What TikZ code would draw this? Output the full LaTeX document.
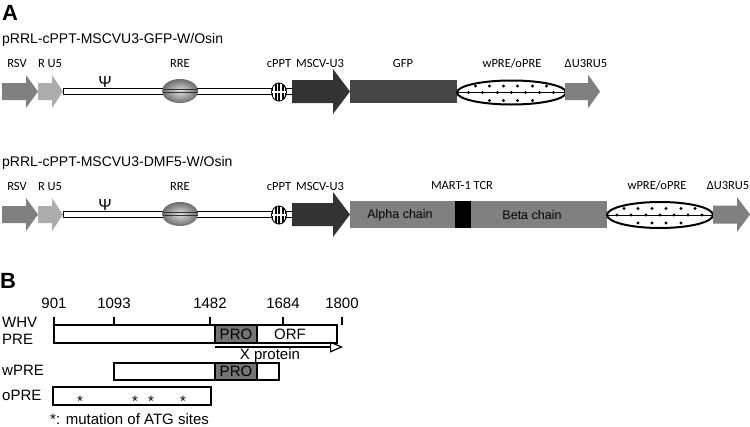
\documentclass[tikz,border=0pt]{standalone}
\usepackage{fontspec}
\setmainfont{Liberation Sans}
\newfontfamily\lblfont{Carlito}
\usetikzlibrary{positioning,arrows.meta}

\definecolor{midgray}{gray}{0.5}
\definecolor{ltgray}{gray}{0.68}
\definecolor{dkgray}{gray}{0.2}
\definecolor{gfpgray}{gray}{0.27}
\definecolor{progray}{gray}{0.45}

% block arrow: colour, x start, x head, x tip, y, body half, head half
\newcommand{\blockarrow}[7]{%
  \fill[#1] (#2,#5-#6) -- (#3,#5-#6) -- (#3,#5-#7) -- (#4,#5)
    -- (#3,#5+#7) -- (#3,#5+#6) -- (#2,#5+#6) -- cycle;}

% dotted PRE oval: x, y, x radius, y radius
\newcommand{\preoval}[4]{%
  \draw[line width=2pt,fill=white] (#1,#2) ellipse ({#3pt} and {#4pt});
  \draw[line width=0.8pt] (#1-#3+1,#2) -- (#1+#3-1,#2);
  \foreach \d in {-36,-22,-8,6,21,35} {\fill (#1+\d,#2-6.5) circle (1.6pt);}
  \foreach \d in {-43,-29,-14,0,14,28,42} {\fill (#1+\d,#2) circle (1.6pt);}
  \foreach \d in {-22,-8,6,21} {\fill (#1+\d,#2+8) circle (1.6pt);}}

\begin{document}
\begin{tikzpicture}[x=1pt,y=-1pt,
  lbl/.style={font=\lblfont\fontsize{12.5}{15}\selectfont,inner sep=0pt,anchor=base},
  ttl/.style={font=\fontsize{14}{16}\selectfont,inner sep=0pt,anchor=base west},
  btxt/.style={font=\fontsize{15}{18}\selectfont,inner sep=0pt,anchor=base},
  chain/.style={font=\fontsize{12.5}{14}\selectfont,inner sep=0pt},
  panel/.style={font=\bfseries\fontsize{22}{24}\selectfont,inner sep=0pt,anchor=north west},
  pbox/.style={line width=1.1pt}]
\useasboundingbox (0,0) rectangle (750,426);

% panel A
\node[panel] (pa) at (2,5) {A};
\foreach \R/\T in {0/{pRRL-cPPT-MSCVU3-GFP-W/Osin},123/{pRRL-cPPT-MSCVU3-DMF5-W/Osin}} {
  \node[ttl] (title\R) at (2,43+\R) {\T};
  \blockarrow{midgray}{2}{26}{38}{91.5+\R}{8.5}{16.5}
  \blockarrow{ltgray}{38}{52}{63}{91.5+\R}{8.5}{16.5}
  \draw[line width=0.8pt,fill=white] (63,88.5+\R) rectangle (292,94.5+\R);
  % RRE
  \shade[inner color=gray!25,outer color=gray!85!black] (180,91+\R) ellipse (18pt and 12pt);
  \draw[gray!40!black,line width=0.8pt] (162.5,89.5+\R) -- (197.5,89.5+\R)
    (162.5,92.5+\R) -- (197.5,92.5+\R);
  % cPPT
  \fill (279,92+\R) ellipse (8pt and 9.5pt);
  \begin{scope}
    \clip (279,92+\R) ellipse (7pt and 8.5pt);
    \foreach \s in {-6,-2.5,1,4.5} {\fill[white] (279+\s,82+\R) rectangle (279+\s+1.6,102+\R);}
    \fill[white] (270,91.4+\R) rectangle (288,92.6+\R);
  \end{scope}
  \blockarrow{dkgray}{292}{333}{350}{91.5+\R}{11.5}{22.5}
  \node[lbl] (rsv\R) at (17,67+\R) {RSV};
  \node[lbl] (ru\R) at (50,67+\R) {R U5};
  \node[font=\fontsize{16}{18}\selectfont,inner sep=0pt] (psi\R) at (105,82+\R) {Ψ};
  \node[lbl] (rre\R) at (180,67+\R) {RRE};
  \node[lbl] (cppt\R) at (279,67+\R) {cPPT};
  \node[lbl] (mscv\R) at (320,67+\R) {MSCV-U3};
}
% upper vector
\fill[gfpgray] (350,80) rectangle (457,103);
\preoval{511.5}{92.5}{54.5}{12}
\blockarrow{midgray}{565}{588}{600}{91.5}{8.5}{17}
\node[lbl] (gfp) at (403,67) {GFP};
\node[lbl] (pre) at (512,67) {wPRE/oPRE};
\node[lbl] (ltr) at (586,67) {ΔU3RU5};
% lower vector
\fill[midgray] (350,201) rectangle (455,228);
\fill (455,201) rectangle (471,228);
\fill[midgray] (471,201) rectangle (607,228);
\preoval{660}{215}{53}{13}
\blockarrow{midgray}{713}{737}{750}{214.5}{9}{17.5}
\node[chain] (alpha) at (400,215) {Alpha chain};
\node[chain] (beta) at (532,215) {Beta chain};
\node[lbl] (tcr) at (462,189) {MART-1 TCR};
\node[lbl] (pre2) at (657,189) {wPRE/oPRE};
\node[lbl,anchor=base east] (ltr2) at (749.5,189) {ΔU3RU5};

% panel B
\node[panel] (pb) at (0,273) {B};
\foreach \X/\N in {54/901,114/1093,210/1482,283/1684,342/1800} {
  \draw[line width=2pt] (\X,317) -- (\X,325);
  \node[btxt] (n\N) at (\X,308) {\N};
}
\draw[pbox,fill=progray] (215,325) rectangle (257,343);
\draw[pbox] (54,325) rectangle (337,343);
\node[btxt,anchor=center] (pro) at (236,334) {PRO};
\node[btxt,anchor=center] (orf) at (290,334) {ORF};
\coordinate (xs) at (215,347);
\coordinate (xe) at (343,347);
\draw[line width=2pt,-{Triangle[open,length=13pt,width=11pt,line width=1.2pt]}] (xs) -- (xe);
\node[btxt] (xprot) at (270,359) {X protein};
\draw[pbox,fill=progray] (215,363) rectangle (257,380);
\draw[pbox] (114,363) rectangle (279,380);
\node[btxt,anchor=center] (pro2) at (236,371.5) {PRO};
\draw[pbox] (53,387) rectangle (211,405);
\foreach \X in {80,135,151,183} {\node[btxt] at (\X,406) {*};}
\node[btxt,anchor=base west] (whv) at (2,327) {WHV};
\node[btxt,anchor=base west] (whvpre) at (2,344) {PRE};
\node[btxt,anchor=base west] (wpre) at (2,375) {wPRE};
\node[btxt,anchor=base west] (opre) at (2,400) {oPRE};
\node[btxt,anchor=base west] (note) at (50,424) {*: mutation of ATG sites};
\end{tikzpicture}
\end{document}
